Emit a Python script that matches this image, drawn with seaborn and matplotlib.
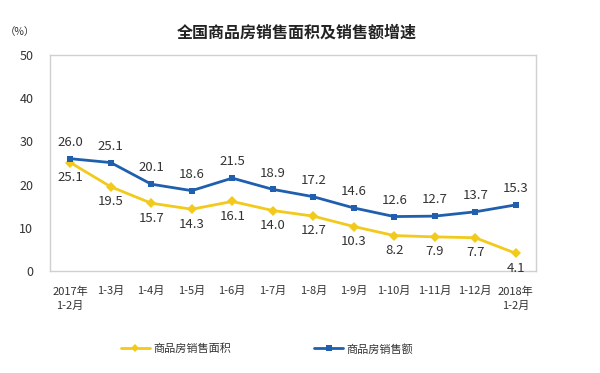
import matplotlib
matplotlib.use("Agg")
import matplotlib.pyplot as plt
import seaborn as sns
import pandas as pd
from matplotlib.ticker import FixedLocator
from matplotlib.lines import Line2D

sns.set_theme(style="white")
plt.rcParams['font.family'] = ['Noto Sans CJK SC', 'DejaVu Sans']

categories = ["2017年\n1-2月", "1-3月", "1-4月", "1-5月", "1-6月", "1-7月", "1-8月",
              "1-9月", "1-10月", "1-11月", "1-12月", "2018年\n1-2月"]
area_growth = [25.1, 19.5, 15.7, 14.3, 16.1, 14.0, 12.7, 10.3, 8.2, 7.9, 7.7, 4.1]
amount_growth = [26.0, 25.1, 20.1, 18.6, 21.5, 18.9, 17.2, 14.6, 12.6, 12.7, 13.7, 15.3]
series_names = ["商品房销售面积", "商品房销售额"]
title = "全国商品房销售面积及销售额增速"

colors = {series_names[0]: "#F2CA1C", series_names[1]: "#1F5FAD"}
markers = {series_names[0]: "D", series_names[1]: "s"}

df = pd.DataFrame({
    "period": categories * 2,
    "value": area_growth + amount_growth,
    "series": [series_names[0]] * len(categories) + [series_names[1]] * len(categories),
})

fig = plt.figure(figsize=(6.0, 3.73), dpi=100)
ax = fig.add_axes([50/600, 1-271/373, 486/600, 216/373])

sns.lineplot(data=df, x="period", y="value", hue="series", style="series",
             palette=colors, markers=markers, dashes=False, sort=False,
             linewidth=2.0, markersize=5, markeredgewidth=0, ax=ax, legend=False)

ax.set_xlim(-0.5, len(categories) - 0.5)
ax.set_ylim(0, 50)
ax.set_yticks([0, 10, 20, 30, 40, 50])
ax.set_xticks(range(len(categories)))
ax.set_xticklabels(categories, fontsize=8, color="#333333", linespacing=1.5)
ax.tick_params(axis="x", which="major", length=0, pad=11)
ax.tick_params(axis="y", labelsize=9, colors="#333333", length=0, pad=12)
ax.xaxis.set_minor_locator(FixedLocator([i + 0.5 for i in range(len(categories) - 1)]))
ax.tick_params(axis="x", which="minor", direction="in", length=3, color="#c8c8c8", width=0.8)
ax.set_xlabel("")
ax.set_ylabel("")
for s in ax.spines.values():
    s.set_color("#d0d0d0")
    s.set_linewidth(1.0)

for i, v in enumerate(amount_growth):
    ax.annotate(f"{v:.1f}", (i, v), xytext=(0, 7), textcoords="offset points",
                ha="center", va="bottom", fontsize=9.5, color="#333333")
for i, v in enumerate(area_growth):
    ax.annotate(f"{v:.1f}", (i, v), xytext=(0, -6), textcoords="offset points",
                ha="center", va="top", fontsize=9.5, color="#333333")

fig.text(297/600, 1-33/373, title, ha="center", va="center", fontsize=11.5,
         color="#222222", fontweight="bold")
fig.text(20/600, 1-32/373, "（%）", ha="center", va="center", fontsize=7.5, color="#333333")

handles = [Line2D([], [], color=colors[n], marker=markers[n], markersize=4,
                  markeredgewidth=0, linewidth=2) for n in series_names]
fig.legend(handles, series_names, loc="center", bbox_to_anchor=(0.445, 1-349/373),
           ncol=2, frameon=False, fontsize=8, handlelength=2.6, handletextpad=0.3,
           columnspacing=7.5, labelcolor="#333333")

fig.savefig("out.png", dpi=100)
